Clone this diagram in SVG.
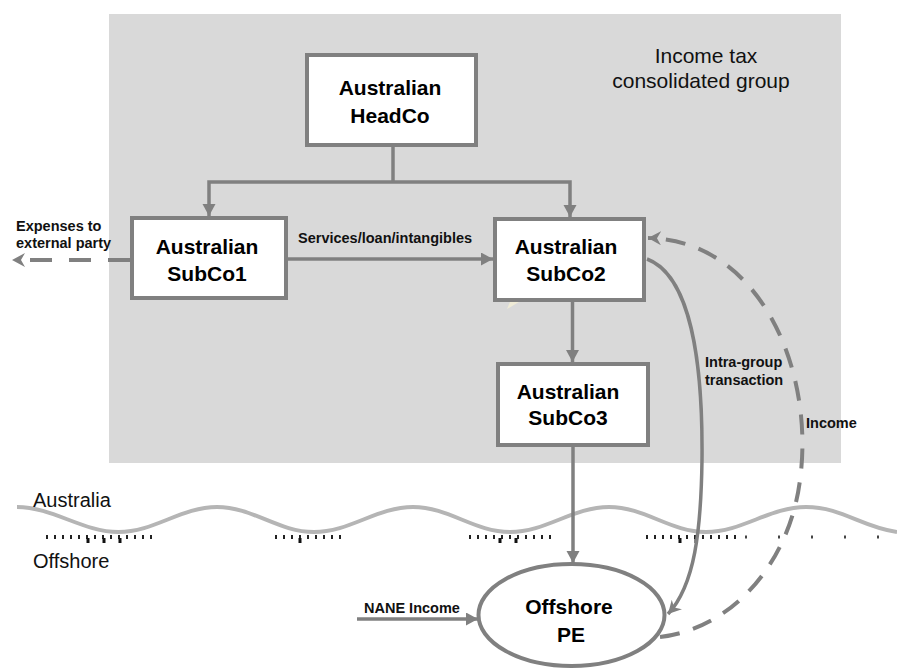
<svg xmlns="http://www.w3.org/2000/svg" width="897" height="669" viewBox="0 0 897 669">
  <style>
    .box { fill: #ffffff; stroke: #808080; stroke-width: 4; }
    .lbl { font-family: "Liberation Sans", Arial, sans-serif; font-weight: bold; font-size: 21px; fill: #000; text-anchor: middle; }
    .small { font-family: "Liberation Sans", Arial, sans-serif; font-weight: bold; font-size: 14.5px; fill: #111; }
    .plain { font-family: "Liberation Sans", Arial, sans-serif; font-size: 21px; fill: #111; }
    .conn { fill: none; stroke: #808080; stroke-width: 3.5; }
    .dash { fill: none; stroke: #808080; stroke-width: 4; stroke-dasharray: 20 14; }
  </style>
  <defs>
    <marker id="tri" markerUnits="userSpaceOnUse" markerWidth="14" markerHeight="14" refX="12" refY="6.5" orient="auto">
      <path d="M0,0 L12,6.5 L0,13 z" fill="#808080"/>
    </marker>
    <marker id="stealth" markerUnits="userSpaceOnUse" markerWidth="16" markerHeight="16" refX="13" refY="7" orient="auto">
      <path d="M0,0 L13,7 L0,14 L4,7 z" fill="#808080"/>
    </marker>
    <marker id="stealthBase" markerUnits="userSpaceOnUse" markerWidth="16" markerHeight="16" refX="1" refY="7" orient="auto">
      <path d="M0,0 L13,7 L0,14 L4,7 z" fill="#808080"/>
    </marker>
  </defs>

  <!-- consolidated group background -->
  <rect id="group-bg" x="109" y="14" width="732" height="449" fill="#d9d9d9"/>
  <text class="plain" x="706" y="63" text-anchor="middle">Income tax</text>
  <text class="plain" x="701" y="88" text-anchor="middle">consolidated group</text>

  <!-- border line -->
  <g id="border">
    <path d="M17,507 C52.8,507 82.7,532 118.5,532 S181.2,507 217,507 S278,532 314,532 S377,507 413,507 S474,532 510,532 S573,507 609,507 S670,532 706,532 S770,507 806,507 S861,527 897,532" fill="none" stroke="#b5b5b5" stroke-width="4"/>
    <text class="plain" x="33" y="507" style="font-size:20px">Australia</text>
    <text class="plain" x="33" y="568" style="font-size:20px">Offshore</text>
    <path d="M46,537 H152 M275,537 H343 M469,537 H552 M646,537 H738" stroke="#222" stroke-width="4" stroke-dasharray="2 6" fill="none"/>
    <path d="M88,538 V543 M104,538 V543 M120,538 V543 M300,538 V543 M500,538 V543 M516,538 V543 M680,538 V543 M696,538 V543" stroke="#111" stroke-width="3" fill="none"/>
    <path d="M745,537 H897" stroke="#444" stroke-width="3" stroke-dasharray="2 31" fill="none"/>
  </g>

  <!-- connectors -->
  <g id="connectors">
    <path class="conn" d="M393,147 V182"/>
    <path class="conn" d="M393,182 H209 V216" marker-end="url(#tri)"/>
    <path class="conn" d="M393,182 H570 V217" marker-end="url(#tri)"/>
    <path class="conn" d="M288,259 H493" marker-end="url(#tri)"/>
    <path class="conn" d="M572.5,302 V362" marker-end="url(#tri)"/>
    <path class="conn" d="M573,447 V563" marker-end="url(#tri)"/>
    <path class="conn" d="M357,619 H478" marker-end="url(#tri)"/>
    <path class="conn" d="M647,259 C690,275 703,360 702,460 C701,530 695,585 668,614" marker-end="url(#stealth)"/>
    <path class="dash" d="M660,637 C735,628 790,560 800,480 C815,370 760,240 648,238" marker-end="url(#stealth)"/>
    <path class="conn" d="M130,260 H24" style="stroke-width:4;stroke-dasharray:22 17" marker-end="url(#stealthBase)"/>
    <text class="small" x="298" y="243">Services/loan/intangibles</text>
    <text class="small" x="16" y="231">Expenses to</text>
    <text class="small" x="16" y="248">external party</text>
    <text class="small" x="705" y="367">Intra-group</text>
    <text class="small" x="705" y="385">transaction</text>
    <text class="small" x="806" y="428">Income</text>
    <text class="small" x="364" y="613">NANE Income</text>
  </g>

  <g id="headco">
    <rect class="box" x="307" y="55" width="169" height="90"/>
    <text class="lbl" x="390" y="95">Australian</text>
    <text class="lbl" x="390" y="123">HeadCo</text>
  </g>
  <g id="subco1">
    <rect class="box" x="132" y="218" width="154" height="80"/>
    <text class="lbl" x="207" y="254">Australian</text>
    <text class="lbl" x="207" y="281">SubCo1</text>
  </g>
  <g id="subco2">
    <rect class="box" x="495" y="219" width="149" height="81"/>
    <text class="lbl" x="566" y="254">Australian</text>
    <text class="lbl" x="566" y="281">SubCo2</text>
  </g>
  <polygon points="507,309 519,302 510,302" fill="#efebd6"/>
  <g id="subco3">
    <rect class="box" x="498" y="364" width="150" height="81"/>
    <text class="lbl" x="568" y="399">Australian</text>
    <text class="lbl" x="568" y="425">SubCo3</text>
  </g>
  <g id="offshore-pe">
    <ellipse class="box" cx="571.5" cy="615" rx="93" ry="51"/>
    <text class="lbl" x="569" y="614">Offshore</text>
    <text class="lbl" x="571" y="642">PE</text>
  </g>
</svg>
